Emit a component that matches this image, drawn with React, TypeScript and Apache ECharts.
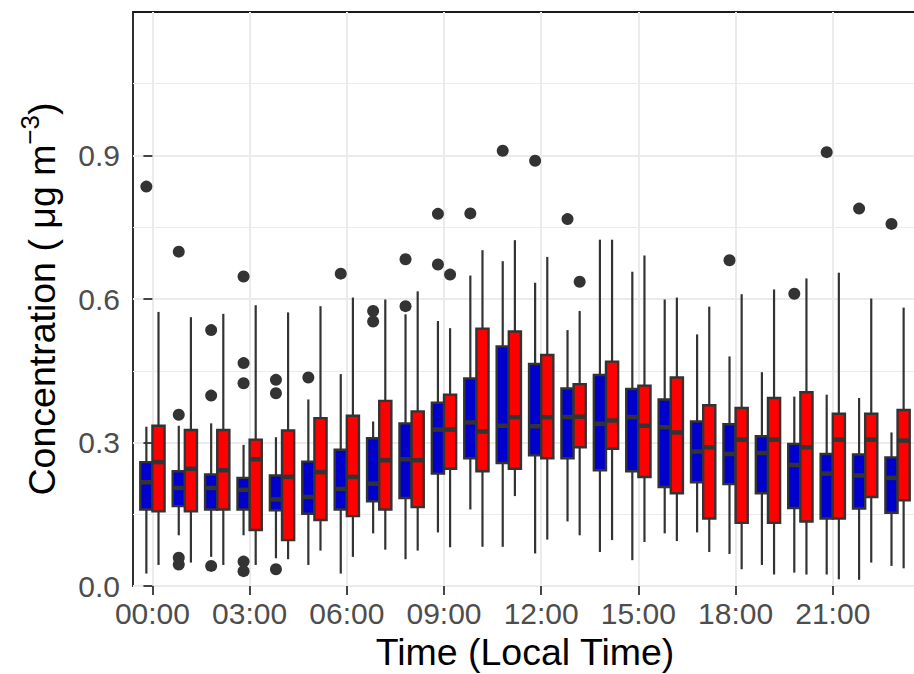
import React, { useEffect, useRef } from "react";
import * as echarts from "echarts";

// Hours of day (local time)
const hours: number[] = Array.from({ length: 24 }, (_, i) => i);

// Tick breaks / labels
const xBreaks: number[] = [0, 3, 6, 9, 12, 15, 18, 21];
const xTickLabels: string[] = ["00:00", "03:00", "06:00", "09:00", "12:00", "15:00", "18:00", "21:00"];
const yBreaks: number[] = [0, 0.3, 0.6, 0.9];
const yTickLabels: string[] = ["0.0", "0.3", "0.6", "0.9"];

// [lower whisker, Q1, median, Q3, upper whisker] per hour
const blueStats: number[][] = [
  [0.026, 0.160, 0.217, 0.259, 0.333],
  [0.106, 0.167, 0.205, 0.240, 0.335],
  [0.061, 0.160, 0.205, 0.233, 0.340],
  [0.106, 0.160, 0.201, 0.226, 0.295],
  [0.058, 0.158, 0.181, 0.231, 0.311],
  [0.044, 0.151, 0.186, 0.260, 0.390],
  [0.026, 0.160, 0.203, 0.285, 0.443],
  [0.110, 0.177, 0.214, 0.309, 0.344],
  [0.056, 0.184, 0.265, 0.340, 0.568],
  [0.112, 0.235, 0.327, 0.383, 0.554],
  [0.160, 0.267, 0.342, 0.434, 0.649],
  [0.082, 0.257, 0.335, 0.501, 0.679],
  [0.068, 0.273, 0.334, 0.464, 0.634],
  [0.135, 0.267, 0.353, 0.413, 0.535],
  [0.071, 0.242, 0.339, 0.441, 0.724],
  [0.054, 0.240, 0.353, 0.412, 0.657],
  [0.110, 0.207, 0.332, 0.390, 0.599],
  [0.112, 0.217, 0.281, 0.344, 0.526],
  [0.067, 0.213, 0.276, 0.338, 0.480],
  [0.044, 0.194, 0.278, 0.313, 0.447],
  [0.028, 0.163, 0.253, 0.297, 0.396],
  [0.024, 0.141, 0.235, 0.276, 0.400],
  [0.013, 0.162, 0.231, 0.275, 0.393],
  [0.042, 0.153, 0.226, 0.269, 0.321],
];

const redStats: number[][] = [
  [0.044, 0.156, 0.259, 0.335, 0.573],
  [0.049, 0.156, 0.245, 0.326, 0.562],
  [0.044, 0.160, 0.242, 0.326, 0.569],
  [0.044, 0.117, 0.265, 0.306, 0.587],
  [0.056, 0.096, 0.228, 0.325, 0.572],
  [0.074, 0.138, 0.238, 0.351, 0.585],
  [0.061, 0.146, 0.228, 0.356, 0.603],
  [0.076, 0.160, 0.263, 0.387, 0.599],
  [0.074, 0.165, 0.263, 0.365, 0.616],
  [0.081, 0.245, 0.327, 0.400, 0.539],
  [0.082, 0.240, 0.323, 0.538, 0.702],
  [0.188, 0.245, 0.353, 0.532, 0.723],
  [0.097, 0.267, 0.353, 0.483, 0.688],
  [0.106, 0.290, 0.354, 0.422, 0.575],
  [0.096, 0.287, 0.346, 0.469, 0.724],
  [0.092, 0.228, 0.335, 0.419, 0.691],
  [0.094, 0.194, 0.321, 0.436, 0.603],
  [0.071, 0.141, 0.290, 0.378, 0.584],
  [0.035, 0.132, 0.306, 0.372, 0.610],
  [0.024, 0.132, 0.306, 0.393, 0.620],
  [0.024, 0.135, 0.290, 0.405, 0.643],
  [0.014, 0.141, 0.306, 0.360, 0.655],
  [0.049, 0.186, 0.306, 0.360, 0.601],
  [0.037, 0.179, 0.304, 0.368, 0.582],
];

// Outliers: [hour, value]
const blueOutliers: number[][] = [
  [0, 0.835], [1, 0.699], [1, 0.358], [1, 0.059], [1, 0.045],
  [2, 0.535], [2, 0.398], [2, 0.042],
  [3, 0.647], [3, 0.466], [3, 0.424], [3, 0.051], [3, 0.031],
  [4, 0.431], [4, 0.403], [4, 0.035],
  [5, 0.436], [6, 0.653], [7, 0.575], [7, 0.553],
  [8, 0.683], [8, 0.585], [9, 0.778], [9, 0.672],
  [10, 0.779], [11, 0.910], [12, 0.889], [13, 0.767],
  [18, 0.681], [20, 0.611], [21, 0.907], [22, 0.789], [23, 0.757],
];
const redOutliers: number[][] = [
  [9, 0.651], [13, 0.636],
];

const FONT = '"Liberation Sans", Arial, Helvetica, sans-serif';
const OUTLINE = "#333333";
const BLUE = "#0000CD";
const RED = "#FF0000";
const DODGE = 0.1875; // half of dodge width (0.75 / 2 / 2)
const BOX_W = 0.375;

function boxSeries(name: string, stats: number[][], color: string, sign: number) {
  return {
    type: "custom",
    name,
    z: 3,
    data: stats.map((s, i) => [hours[i], ...s]),
    encode: { x: 0, y: [1, 2, 3, 4, 5] },
    renderItem: (params: any, api: any) => {
      const x = api.value(0) + sign * DODGE;
      const low = api.coord([x, api.value(1)]);
      const q1 = api.coord([x, api.value(2)]);
      const med = api.coord([x, api.value(3)]);
      const q3 = api.coord([x, api.value(4)]);
      const high = api.coord([x, api.value(5)]);
      const w = api.size([BOX_W, 0])[0];
      const cx = q1[0];
      const lineStyle = { stroke: OUTLINE, lineWidth: 2.2 };
      return {
        type: "group",
        children: [
          { type: "line", shape: { x1: cx, y1: q3[1], x2: cx, y2: high[1] }, style: lineStyle },
          { type: "line", shape: { x1: cx, y1: q1[1], x2: cx, y2: low[1] }, style: lineStyle },
          {
            type: "rect",
            shape: { x: cx - w / 2, y: q3[1], width: w, height: q1[1] - q3[1] },
            style: { fill: color, stroke: OUTLINE, lineWidth: 2.4 },
          },
          {
            type: "line",
            shape: { x1: cx - w / 2, y1: med[1], x2: cx + w / 2, y2: med[1] },
            style: { stroke: OUTLINE, lineWidth: 4.5 },
          },
        ],
      };
    },
  };
}

function outlierSeries(name: string, pts: number[][], sign: number) {
  return {
    type: "scatter",
    name,
    z: 4,
    symbol: "circle",
    symbolSize: 12,
    itemStyle: { color: OUTLINE, opacity: 1 },
    data: pts.map((p) => [p[0] + sign * DODGE, p[1]]),
  };
}

export default function App() {
  const ref = useRef<HTMLDivElement>(null);
  useEffect(() => {
    if (!ref.current) return;
    const chart = echarts.init(ref.current, null, { renderer: "svg" });
    chart.setOption({
      animation: false,
      backgroundColor: "#ffffff",
      textStyle: { fontFamily: FONT },
      grid: {
        left: 133,
        top: 12,
        bottom: 88,
        right: -3,
        containLabel: false,
        outerBoundsMode: "none",
        show: true,
        borderColor: "#1a1a1a",
        borderWidth: 1.8,
        backgroundColor: "transparent",
      },
      xAxis: {
        type: "value",
        min: -0.6,
        max: 23.6,
        name: "Time (Local Time)",
        nameLocation: "middle",
        nameGap: 44,
        nameTextStyle: { fontSize: 37.5, color: "#000000", fontFamily: FONT },
        axisLine: { show: false },
        axisTick: {
          show: true,
          length: 9,
          lineStyle: { color: "#333333", width: 1.8 },
          customValues: xBreaks,
        },
        axisLabel: {
          customValues: xBreaks,
          margin: 12,
          fontSize: 30,
          color: "#4D4D4D",
          fontFamily: FONT,
          formatter: (v: number) => xTickLabels[xBreaks.indexOf(Math.round(v))] ?? "",
        },
        splitLine: { show: true, lineStyle: { color: "#EBEBEB", width: 2 } },
      },
      yAxis: {
        type: "value",
        min: 0,
        max: 1.2,
        interval: 0.3,
        name: "{m|Concentration ( μg m}{sup|−3}{m|)}",
        nameLocation: "middle",
        nameGap: 67,
        nameRotate: 90,
        nameTextStyle: {
          fontSize: 37.5,
          color: "#000000",
          fontFamily: FONT,
          rich: {
            m: { fontSize: 37.5, color: "#000000", fontFamily: FONT },
            sup: { fontSize: 26, lineHeight: 26, padding: [0, 0, 24, 0], color: "#000000", fontFamily: FONT },
          },
        },
        axisLine: { show: false },
        axisTick: {
          show: true,
          length: 9,
          lineStyle: { color: "#333333", width: 1.8 },
          customValues: yBreaks,
        },
        axisLabel: {
          customValues: yBreaks,
          margin: 13,
          fontSize: 30,
          color: "#4D4D4D",
          fontFamily: FONT,
          formatter: (v: number) => {
            const i = yBreaks.findIndex((b) => Math.abs(b - v) < 1e-6);
            return i >= 0 ? yTickLabels[i] : "";
          },
        },
        splitLine: { show: true, lineStyle: { color: "#EBEBEB", width: 2 } },
        minorTick: { show: false, splitNumber: 2 },
        minorSplitLine: { show: true, lineStyle: { color: "#EBEBEB", width: 1.1 } },
      },
      series: [
        boxSeries("blue", blueStats, BLUE, -1),
        boxSeries("red", redStats, RED, 1),
        outlierSeries("blue outliers", blueOutliers, -1),
        outlierSeries("red outliers", redOutliers, 1),
      ],
    });
    return () => chart.dispose();
  }, []);
  return (
    <div
      ref={ref}
      style={{ position: "fixed", left: 0, top: 0, width: 914, height: 674, background: "#fff" }}
    />
  );
}
